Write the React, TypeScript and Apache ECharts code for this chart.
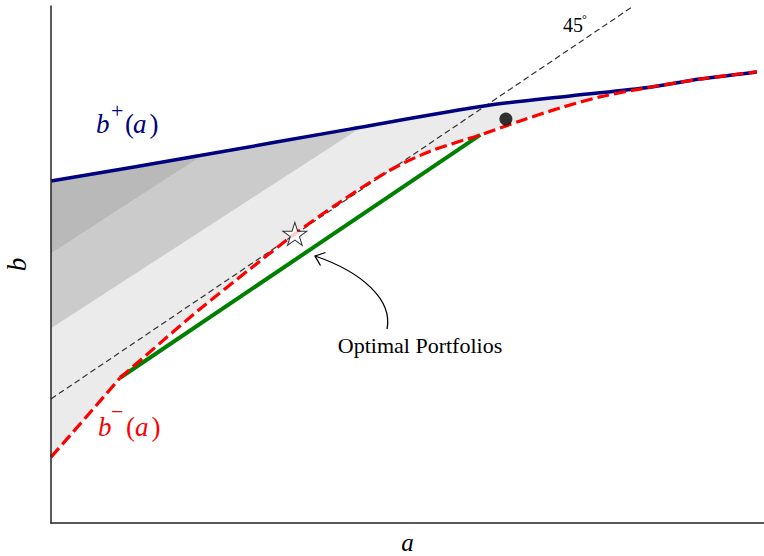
import React, { useEffect, useRef } from 'react';
import * as echarts from 'echarts';

// axis extents (a, b)
const X_MAX = 10;
const Y_MAX = 10.75;

// b+(a): upper boundary
const upperBound: number[][] = [
  [0, 7.11], [2.09, 7.64], [4.19, 8.19], [6.12, 8.68], [7.28, 8.88],
  [8.4, 9.06], [9.1, 9.23], [9.9, 9.38],
];
// b-(a): lower boundary, first piece (up to the tangency point)
const lowerBoundLeft: number[][] = [
  [0, 1.37], [0.41, 2.06], [0.97, 3.02],
];
// b-(a): lower boundary, remaining piece
const lowerBoundRight: number[][] = [
  [0.97, 3.02], [1.53, 3.74], [2.09, 4.45],
  [2.79, 5.28], [3.42, 6.01], [4.05, 6.67], [4.76, 7.34], [5.32, 7.73],
  [6.02, 8.07], [6.58, 8.36], [7.14, 8.63], [7.7, 8.86], [8.4, 9.06],
  [9.1, 9.23], [9.9, 9.38],
];
// optimal portfolios segment
const optimalLine: number[][] = [[0.97, 3.02], [6.02, 8.07]];
// 45 degree reference line
const line45: number[][] = [[0, 2.58], [8.15, 10.73]];
// shaded band edges
const darkEdge: number[][] = [[0, 5.61], [4, 9.45]];
const midEdge: number[][] = [[0, 4.05], [6, 9.81]];
// markers
const starPoint: number[][] = [[3.42, 6.01]];
const dotPoint: number[][] = [[6.38, 8.4]];

const SERIF = "'Liberation Serif', 'DejaVu Serif', serif";
const STAR =
  'path://M50,0 L61.23,34.55 L97.55,34.55 L68.17,55.9 L79.39,90.45 L50,69.1 L20.61,90.45 L31.83,55.9 L2.45,34.55 L38.77,34.55 Z';

const polySeries = (pts: number[][], color: string, z: number) => ({
  type: 'custom',
  coordinateSystem: 'cartesian2d',
  silent: true,
  clip: true,
  z,
  data: [[0, 0]],
  renderItem: (_params: any, api: any) => ({
    type: 'polygon',
    shape: { points: pts.map((p) => api.coord(p)) },
    style: { fill: color, stroke: null },
  }),
});

const txt = (
  text: string,
  x: number,
  y: number,
  size: number,
  color: string,
  italic = false,
  align: string = 'left'
) => ({
  type: 'text',
  x,
  y,
  z: 100,
  silent: true,
  style: {
    text,
    fill: color,
    font: `${italic ? 'italic ' : ''}${size}px ${SERIF}`,
    align,
    verticalAlign: 'middle',
  },
});

export default function App() {
  const ref = useRef<HTMLDivElement>(null);

  useEffect(() => {
    if (!ref.current) return;
    const chart = echarts.init(ref.current, undefined, { renderer: 'svg' });

    const lowerBound = [...lowerBoundLeft, ...lowerBoundRight.slice(1)];
    const lightPoly = [...upperBound, ...lowerBound.slice().reverse()];
    const midPoly = [...midEdge, [midEdge[1][0], Y_MAX], [0, Y_MAX]];
    const darkPoly = [...darkEdge, [darkEdge[1][0], Y_MAX], [0, Y_MAX]];
    const maskPoly = [...upperBound, [upperBound[upperBound.length - 1][0], Y_MAX], [0, Y_MAX]];

    const navy = '#000080';
    const red = '#ff0000';
    const redStyle = { color: red, width: 3.2, type: [12, 5] };

    chart.setOption({
      animation: false,
      backgroundColor: '#ffffff',
      grid: { left: 51, right: 0, top: 6, bottom: 33, outerBoundsMode: 'none', containLabel: false },
      xAxis: {
        type: 'value',
        min: 0,
        max: X_MAX,
        z: 20,
        name: 'a',
        nameLocation: 'middle',
        nameGap: 7,
        nameTextStyle: { fontFamily: SERIF, fontStyle: 'italic', fontSize: 25, color: '#000' },
        axisLine: { show: true, lineStyle: { color: '#222', width: 1.5 } },
        axisTick: { show: false },
        axisLabel: { show: false },
        splitLine: { show: false },
      },
      yAxis: {
        type: 'value',
        min: 0,
        max: Y_MAX,
        z: 20,
        name: 'b',
        nameLocation: 'middle',
        nameGap: 21,
        nameTextStyle: { fontFamily: SERIF, fontStyle: 'italic', fontSize: 27, color: '#000' },
        axisLine: { show: true, lineStyle: { color: '#222', width: 1.5 } },
        axisTick: { show: false },
        axisLabel: { show: false },
        splitLine: { show: false },
      },
      series: [
        polySeries(lightPoly, '#ebebeb', 1),
        polySeries(midPoly, '#cbcbcb', 2),
        polySeries(darkPoly, '#b9b9b9', 3),
        polySeries(maskPoly, '#ffffff', 4),
        {
          type: 'line',
          data: line45,
          symbol: 'none',
          silent: true,
          z: 5,
          lineStyle: { color: '#333', width: 1.2, type: [6, 3.5] },
        },
        {
          type: 'line',
          data: optimalLine,
          symbol: 'none',
          silent: true,
          z: 6,
          lineStyle: { color: '#008000', width: 4 },
        },
        {
          type: 'line',
          data: upperBound,
          symbol: 'none',
          smooth: 0.3,
          silent: true,
          z: 7,
          lineStyle: { color: navy, width: 3.5 },
        },
        {
          type: 'line',
          data: lowerBoundLeft,
          symbol: 'none',
          silent: true,
          z: 8,
          lineStyle: redStyle,
        },
        {
          type: 'line',
          data: lowerBoundRight,
          symbol: 'none',
          smooth: 0.3,
          silent: true,
          z: 8,
          lineStyle: redStyle,
        },
        {
          type: 'scatter',
          data: starPoint,
          symbol: STAR,
          symbolSize: [24, 23],
          silent: true,
          z: 9,
          itemStyle: { color: '#ffffff', borderColor: '#000', borderWidth: 1 },
        },
        {
          type: 'scatter',
          data: dotPoint,
          symbol: 'circle',
          symbolSize: 13,
          silent: true,
          z: 9,
          itemStyle: { color: '#000' },
        },
      ],
      graphic: [
        // b+(a)
        txt('b', 96, 124, 27, navy, true),
        txt('+', 111, 110, 22, navy),
        txt('(', 125, 124, 27, navy),
        txt('a', 133, 124, 27, navy, true),
        txt(')', 149.5, 124, 27, navy),
        // b-(a)
        txt('b', 98, 427, 27, red, true),
        txt('\u2212', 111, 411, 22, red),
        txt('(', 126, 427, 27, red),
        txt('a', 135, 427, 27, red, true),
        txt(')', 151.5, 427, 27, red),
        // 45 degrees
        txt('45', 563, 25, 20, '#000'),
        txt('\u00b0', 582, 18.5, 12, '#000'),
        // annotation
        txt('Optimal Portfolios', 420, 345.5, 22, '#000', false, 'center'),
        {
          type: 'bezierCurve',
          z: 100,
          silent: true,
          shape: { x1: 387, y1: 329, cpx1: 393, cpy1: 300, cpx2: 362, cpy2: 272, x2: 315, y2: 256 },
          style: { stroke: '#000', lineWidth: 1.3, fill: null },
        },
        {
          type: 'polyline',
          z: 100,
          silent: true,
          shape: { points: [[325.5, 252.5], [315, 256], [320.5, 265.5]] },
          style: { stroke: '#000', lineWidth: 1.3, fill: null },
        },
      ],
    });

    return () => chart.dispose();
  }, []);

  return (
    <div
      ref={ref}
      style={{ position: 'fixed', left: 0, top: 0, width: 764, height: 556, background: '#fff' }}
    />
  );
}
